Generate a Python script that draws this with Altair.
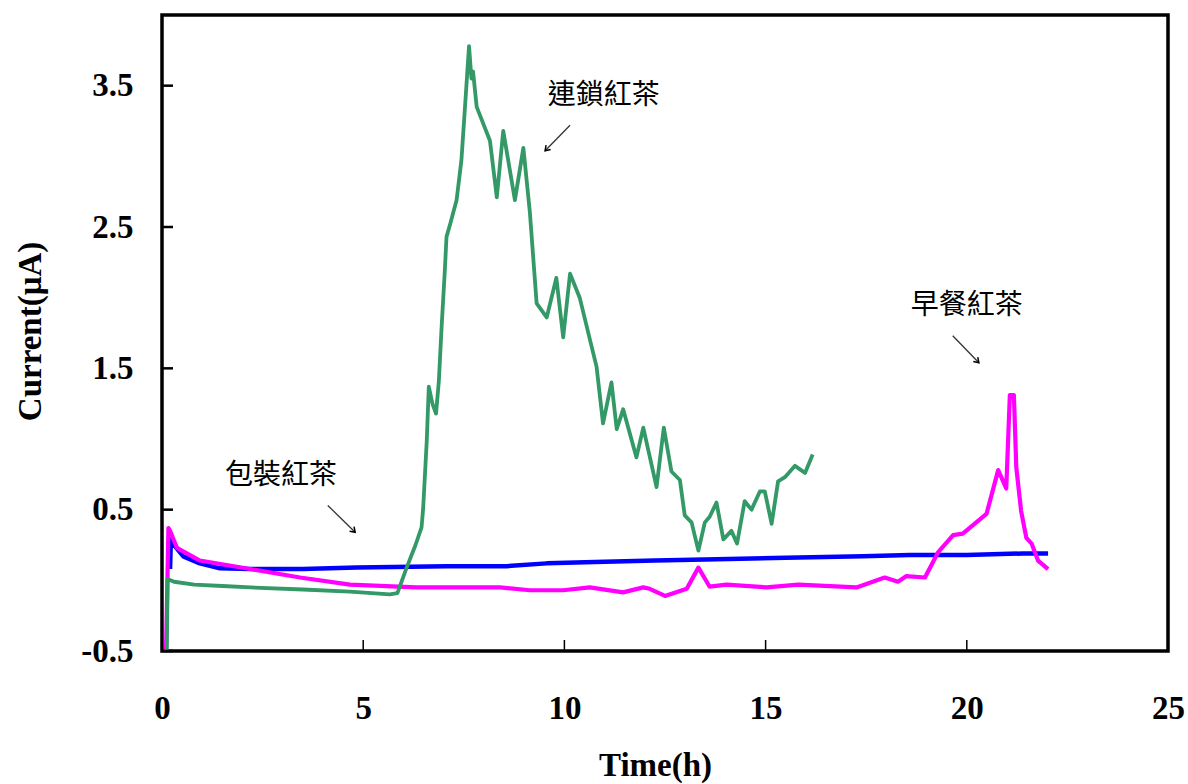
import altair as alt
import pandas as pd

# ---------------- data ----------------
x_ticks = [0, 5, 10, 15, 20, 25]
y_ticks = [-0.5, 0.5, 1.5, 2.5, 3.5]

# 連鎖紅茶 (green)
green_t = [0.12, 0.14, 0.3, 0.8, 1.5, 2.2, 3.5, 4.67, 5.66, 5.85, 6.08, 6.3, 6.45, 6.49,
           6.58, 6.63, 6.72, 6.81, 6.88, 6.95, 7.03, 7.07, 7.16, 7.32, 7.44, 7.53, 7.63,
           7.69, 7.73, 7.82, 8.15, 8.32, 8.48, 8.77, 8.98, 9.14, 9.31, 9.56, 9.80, 9.97,
           10.14, 10.38, 10.80, 10.96, 11.17, 11.30, 11.46, 11.79, 11.96, 12.29, 12.47,
           12.66, 12.87, 12.99, 13.16, 13.33, 13.49, 13.61, 13.78, 13.95, 14.15, 14.29,
           14.48, 14.65, 14.86, 14.98, 15.15, 15.31, 15.48, 15.73, 15.98, 16.17]
green_v = [-0.5, 0.01, -0.01, -0.03, -0.04, -0.05, -0.065, -0.08, -0.10, -0.09, 0.09, 0.25,
           0.375, 0.51, 0.99, 1.37, 1.25, 1.18, 1.41, 1.80, 2.20, 2.43, 2.52, 2.69, 2.97,
           3.35, 3.78, 3.55, 3.60, 3.35, 3.11, 2.71, 3.18, 2.69, 3.06, 2.61, 1.96, 1.86,
           2.14, 1.72, 2.17, 2.00, 1.51, 1.11, 1.40, 1.07, 1.21, 0.87, 1.08, 0.66, 1.08,
           0.77, 0.71, 0.46, 0.41, 0.21, 0.41, 0.45, 0.55, 0.29, 0.35, 0.26, 0.56, 0.50,
           0.63, 0.63, 0.40, 0.70, 0.73, 0.81, 0.76, 0.89]

# 包裝紅茶 (blue)
blue_t = [0.2, 0.22, 0.3, 0.53, 0.94, 1.44, 2.19, 3.5, 4.84, 7.07, 8.56, 9.56, 10.76,
          12.25, 13.78, 15.5, 17.42, 18.58, 20.0, 21.4, 22.02]
blue_v = [0.08, 0.29, 0.25, 0.17, 0.12, 0.085, 0.08, 0.08, 0.09, 0.10, 0.10, 0.12, 0.13,
          0.14, 0.15, 0.16, 0.17, 0.18, 0.18, 0.19, 0.19]

# 早餐紅茶 (magenta)
mag_t = [0.1, 0.16, 0.2, 0.37, 0.94, 2.19, 3.43, 4.67, 6.33, 8.40, 9.14, 9.97, 10.63,
         11.46, 11.96, 12.12, 12.50, 13.04, 13.33, 13.61, 14.03, 15.02, 15.81, 17.26,
         17.96, 18.29, 18.50, 18.96, 19.29, 19.66, 19.9, 20.49, 20.78, 20.98, 21.07,
         21.17, 21.23, 21.35, 21.48, 21.61, 21.77, 22.02]
mag_v = [-0.5, 0.37, 0.35, 0.23, 0.14, 0.08, 0.02, -0.03, -0.05, -0.05, -0.07, -0.07,
         -0.05, -0.085, -0.05, -0.06, -0.11, -0.06, 0.09, -0.045, -0.03, -0.05, -0.03,
         -0.05, 0.02, -0.01, 0.03, 0.02, 0.20, 0.32, 0.33, 0.47, 0.78, 0.65, 1.31, 1.31,
         0.80, 0.49, 0.30, 0.26, 0.14, 0.08]

# annotations
ann_text = ["連鎖紅茶", "早餐紅茶", "包裝紅茶"]
ann_t = [10.98, 20.0, 2.96]
ann_v = [3.43, 1.94, 0.74]
arrow_t0 = [10.14, 19.65, 4.12]
arrow_v0 = [3.22, 1.73, 0.53]
arrow_t1 = [9.52, 20.30, 4.80]
arrow_v1 = [3.04, 1.54, 0.34]

# ---------------- build ----------------
W, H = 1006, 636
xs = alt.Scale(domain=[0, 25], nice=False, zero=False)
ys = alt.Scale(domain=[-0.5, 4.0], nice=False, zero=False)

x_axis = alt.Axis(values=x_ticks, format="d", title="Time(h)", grid=False, ticks=False,
                  tickSize=0, domain=False, labelFont="Liberation Serif", labelFontSize=33,
                  labelFontWeight="bold", labelColor="black", labelPadding=67,
                  labelBaseline="alphabetic", labelFlush=False, labelOverlap=False,
                  titleFont="Liberation Serif", titleFontSize=33, titleFontWeight="bold",
                  titleColor="black", titleX=493, titleY=114, titleBaseline="middle",
                  titleAlign="center")
y_axis = alt.Axis(values=y_ticks, title="Current(μA)", grid=False, ticks=False,
                  labelExpr="datum.value < 0 ? '-' + format(-datum.value, '.1f') : format(datum.value, '.1f')",
                  tickSize=0, domain=False, labelFont="Liberation Serif", labelFontSize=33,
                  labelFontWeight="bold", labelColor="black", labelPadding=29,
                  labelBaseline="middle", labelFlush=False, labelOverlap=False,
                  titleFont="Liberation Serif", titleFontSize=33, titleFontWeight="bold",
                  titleColor="black", titleAngle=270, titleX=-132, titleY=316,
                  titleAlign="center", titleBaseline="middle")

X = alt.X("t:Q", scale=xs, axis=x_axis, title="Time(h)")
Y = alt.Y("v:Q", scale=ys, axis=y_axis, title="Current(μA)")


def series_df(ts, vs):
    return pd.DataFrame({"t": ts, "v": vs, "o": list(range(len(ts)))})


def line(df, color, sw):
    return alt.Chart(df).mark_line(color=color, strokeWidth=sw, strokeJoin="round").encode(
        x=X, y=Y, order="o:Q")


blue = line(series_df(blue_t, blue_v), "#0000FF", 4.5)
mag = line(series_df(mag_t, mag_v), "#FF00FF", 4.2)
green = line(series_df(green_t, green_v), "#339966", 3.8)

ytick_df = pd.DataFrame({"v": y_ticks})
xtick_df = pd.DataFrame({"t": x_ticks})
yticks = alt.Chart(ytick_df).mark_rule(color="black", strokeWidth=2.5).encode(
    y=Y, x=alt.value(0), x2=alt.value(11))
xticks = alt.Chart(xtick_df).mark_rule(color="black", strokeWidth=1.5).encode(
    x=X, y=alt.value(H), y2=alt.value(H - 11))

ann_df = pd.DataFrame({"label": ann_text, "t": ann_t, "v": ann_v})
texts = alt.Chart(ann_df).mark_text(font="Noto Sans CJK TC", fontSize=28, color="black",
                                    align="center", baseline="middle").encode(
    x=X, y=Y, text="label:N")

rows = []
for i in range(len(ann_text)):
    rows.append({"id": i, "t": arrow_t0[i], "v": arrow_v0[i], "o": 0})
    rows.append({"id": i, "t": arrow_t1[i], "v": arrow_v1[i], "o": 1})
shaft_df = pd.DataFrame(rows)
shafts = alt.Chart(shaft_df).mark_line(color="#333333", strokeWidth=1.3).encode(
    x=X, y=Y, detail="id:N", order="o:Q")

head_df = pd.DataFrame({"t": arrow_t1, "v": arrow_v1, "id": list(range(len(ann_text)))})
head_shape = "M -0.6 0.9 L 0 0 L 0.6 0.9"
head_left = alt.Chart(head_df).transform_filter("datum.id == 0").mark_point(
    shape=head_shape, filled=False, size=110, strokeWidth=1.5, color="black", angle=224,
    opacity=1).encode(x=X, y=Y)
head_right = alt.Chart(head_df).transform_filter("datum.id > 0").mark_point(
    shape=head_shape, filled=False, size=110, strokeWidth=1.5, color="black", angle=135,
    opacity=1).encode(x=X, y=Y)

chart = alt.layer(blue, mag, green, yticks, xticks, shafts, head_left, head_right, texts).properties(
    width=W, height=H,
    autosize=alt.AutoSizeParams(type="none"),
    padding={"left": 162, "top": 15, "right": 20, "bottom": 133},
    background="white",
).configure_view(stroke="black", strokeWidth=3.5)

chart.save("out.html", embed_options={"renderer": "svg", "actions": False})
